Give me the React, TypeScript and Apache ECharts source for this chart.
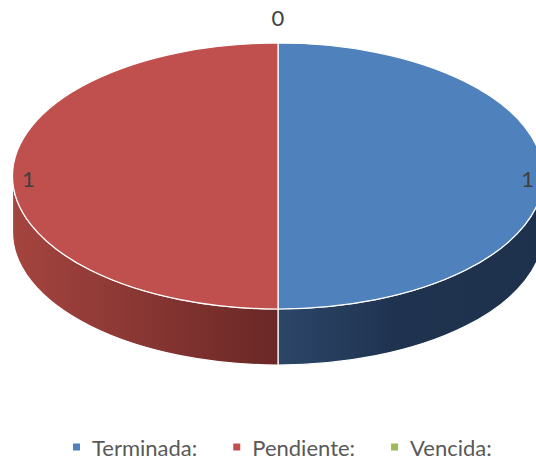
import React, { useEffect, useRef } from "react";
import * as echarts from "echarts";

const categories = ["Terminada:", "Pendiente:", "Vencida:"];
const values = [1, 1, 0];
const topColors = ["#4F81BD", "#C0504D", "#9BBB59"];

const CX = 278;
const CY = 176;
const RX = 265.5;
const RY = 133;
const DEPTH = 56;
const FONT = "Lato, 'Open Sans', sans-serif";

function pt(phi: number, dy = 0): [number, number] {
  return [CX + RX * Math.sin(phi), CY - RY * Math.cos(phi) + dy];
}

function topPath(a: number, b: number): string {
  if (b - a <= 1e-9) return "";
  const parts: string[] = [];
  const p1 = pt(a);
  parts.push(`M ${CX} ${CY} L ${p1[0]} ${p1[1]}`);
  let cur = a;
  while (cur < b - 1e-9) {
    const nxt = Math.min(b, cur + Math.PI);
    const p = pt(nxt);
    parts.push(`A ${RX} ${RY} 0 0 1 ${p[0]} ${p[1]}`);
    cur = nxt;
  }
  parts.push("Z");
  return parts.join(" ");
}

function sidePath(a: number, b: number): string {
  const s = Math.max(a, Math.PI / 2);
  const e = Math.min(b, (3 * Math.PI) / 2);
  if (e - s <= 1e-9) return "";
  const p1 = pt(s);
  const p2 = pt(e);
  const q2 = pt(e, DEPTH);
  const q1 = pt(s, DEPTH);
  return `M ${p1[0]} ${p1[1]} A ${RX} ${RY} 0 0 1 ${p2[0]} ${p2[1]} L ${q2[0]} ${q2[1]} A ${RX} ${RY} 0 0 0 ${q1[0]} ${q1[1]} Z`;
}

const total = values.reduce((s, v) => s + v, 0);
const starts: number[] = [];
{
  let acc = 0;
  values.forEach((v) => {
    starts.push((acc / total) * Math.PI * 2);
    acc += v;
  });
}

const sideGradient = () =>
  new echarts.graphic.LinearGradient(
    CX - RX,
    0,
    CX + RX,
    0,
    [
      { offset: 0, color: "#A5443F" },
      { offset: 0.4999, color: "#6A2826" },
      { offset: 0.5, color: "#2C4668" },
      { offset: 0.72, color: "#1F3350" },
      { offset: 1, color: "#1E314C" },
    ],
    true
  );

export default function App() {
  const ref = useRef<HTMLDivElement>(null);
  useEffect(() => {
    if (!ref.current) return;
    const chart = echarts.init(ref.current, undefined, { renderer: "svg" });
    const series = categories.map((name, i) => ({
      type: "custom",
      name,
      coordinateSystem: "none",
      itemStyle: { color: topColors[i] },
      data: [[values[i]]],
      renderItem: (_params: any, api: any) => {
        const v = api.value(0) as number;
        const a = starts[i];
        const b = a + (v / total) * Math.PI * 2;
        const children: any[] = [];
        const sp = sidePath(a, b);
        if (sp) {
          children.push({
            type: "path",
            shape: { pathData: sp },
            style: { fill: sideGradient(), stroke: "#FFFFFF", lineWidth: 1.2 },
          });
        }
        const tp = topPath(a, b);
        if (tp) {
          children.push({
            type: "path",
            shape: { pathData: tp },
            style: { fill: topColors[i], stroke: "#FFFFFF", lineWidth: 1.2 },
          });
        }
        const mid = (a + b) / 2;
        let lx: number, ly: number;
        if (v > 0) {
          lx = CX + RX * 0.94 * Math.sin(mid);
          ly = CY - RY * 0.94 * Math.cos(mid) + 2;
        } else {
          const p = pt(mid);
          lx = p[0] + 26 * Math.sin(mid);
          ly = p[1] - 26 * Math.cos(mid);
        }
        children.push({
          type: "text",
          z2: 10,
          style: {
            text: String(v),
            x: lx,
            y: ly,
            fill: "#404040",
            fontSize: 22,
            fontFamily: FONT,
            align: "center",
            verticalAlign: "middle",
          },
        });
        return { type: "group", children };
      },
    }));
    chart.setOption({
      animation: false,
      legend: {
        data: categories,
        left: 68,
        top: 431,
        icon: "rect",
        itemWidth: 7,
        itemHeight: 7,
        itemGap: 36,
        textStyle: {
          fontSize: 22,
          fontFamily: FONT,
          color: "#595959",
          padding: [0, 0, 0, 7],
        },
      },
      series,
    });
    return () => chart.dispose();
  }, []);
  return (
    <div
      ref={ref}
      style={{ position: "absolute", left: 0, top: 0, width: 536, height: 461 }}
    />
  );
}
